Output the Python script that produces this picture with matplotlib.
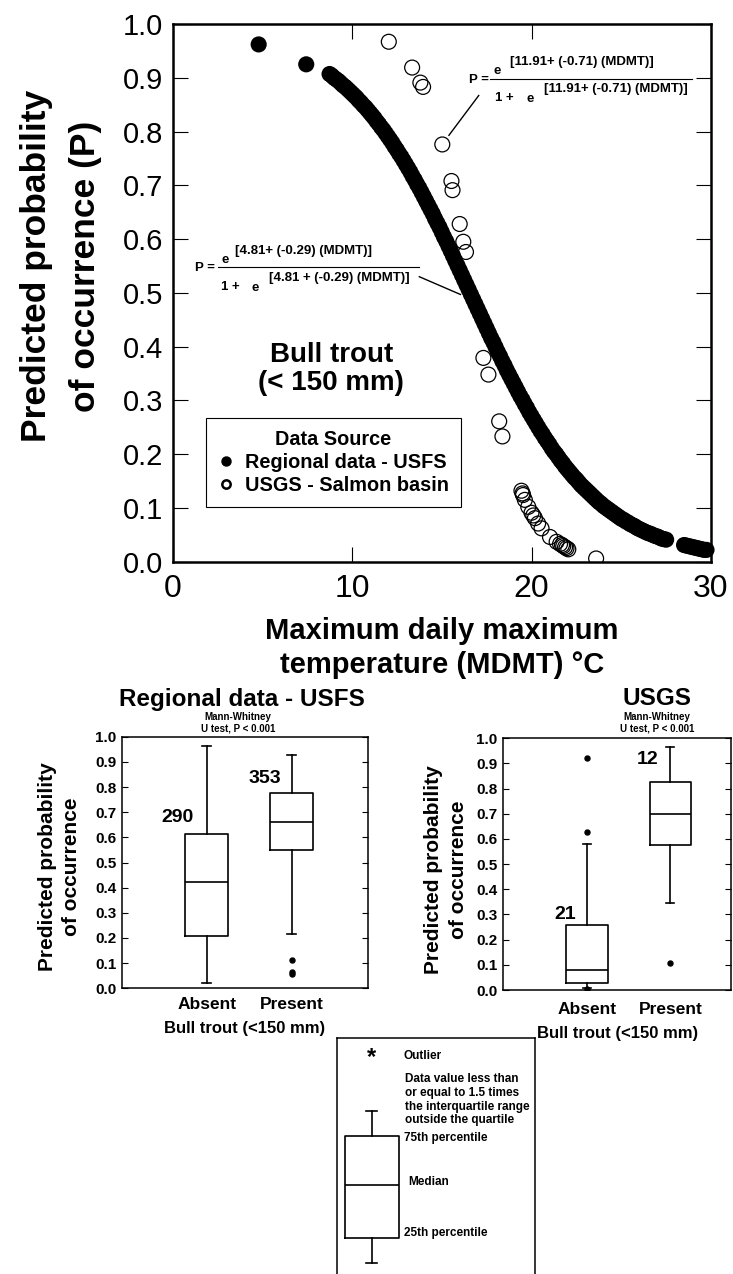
import matplotlib
matplotlib.use('Agg')
import matplotlib.pyplot as plt
from matplotlib.lines import Line2D

plt.rcParams['font.family'] = ['Liberation Sans', 'DejaVu Sans']

# ---------------- data ----------------
# Regional data - USFS: predicted probability vs MDMT (dense band of points)
usfs_mdmt = [4.8, 7.45,
             8.75, 8.875, 9.0, 9.125, 9.25, 9.375, 9.5, 9.625, 9.75, 9.875,
             10.0, 10.125, 10.25, 10.375, 10.5, 10.625, 10.75, 10.875,
             11.0, 11.125, 11.25, 11.375, 11.5, 11.625, 11.75, 11.875,
             12.0, 12.125, 12.25, 12.375, 12.5, 12.625, 12.75, 12.875,
             13.0, 13.125, 13.25, 13.375, 13.5, 13.625, 13.75, 13.875,
             14.0, 14.125, 14.25, 14.375, 14.5, 14.625, 14.75, 14.875,
             15.0, 15.125, 15.25, 15.375, 15.5, 15.625, 15.75, 15.875,
             16.0, 16.125, 16.25, 16.375, 16.5, 16.625, 16.75, 16.875,
             17.0, 17.125, 17.25, 17.375, 17.5, 17.625, 17.75, 17.875,
             18.0, 18.125, 18.25, 18.375, 18.5, 18.625, 18.75, 18.875,
             19.0, 19.125, 19.25, 19.375, 19.5, 19.625, 19.75, 19.875,
             20.0, 20.125, 20.25, 20.375, 20.5, 20.625, 20.75, 20.875,
             21.0, 21.125, 21.25, 21.375, 21.5, 21.625, 21.75, 21.875,
             22.0, 22.125, 22.25, 22.375, 22.5, 22.625, 22.75, 22.875,
             23.0, 23.125, 23.25, 23.375, 23.5, 23.625, 23.75, 23.875,
             24.0, 24.125, 24.25, 24.375, 24.5, 24.625, 24.75, 24.875,
             25.0, 25.125, 25.25, 25.375, 25.5, 25.625, 25.75, 25.875,
             26.0, 26.125, 26.25, 26.375, 26.5, 26.625, 26.75, 26.875,
             27.0, 27.125, 27.25, 27.375, 27.5,
             28.5, 28.625, 28.75, 28.875, 29.0, 29.125, 29.25, 29.375,
             29.5, 29.625, 29.75]
usfs_p = [0.962, 0.925,
          0.907, 0.904, 0.900, 0.897, 0.894, 0.890, 0.886, 0.883, 0.879, 0.875,
          0.871, 0.867, 0.863, 0.858, 0.854, 0.849, 0.845, 0.840,
          0.835, 0.830, 0.825, 0.819, 0.814, 0.808, 0.803, 0.797,
          0.791, 0.785, 0.779, 0.772, 0.766, 0.759, 0.753, 0.746,
          0.739, 0.732, 0.725, 0.717, 0.710, 0.702, 0.695, 0.687,
          0.679, 0.671, 0.663, 0.655, 0.647, 0.638, 0.630, 0.622,
          0.613, 0.604, 0.596, 0.587, 0.578, 0.569, 0.560, 0.551,
          0.542, 0.533, 0.524, 0.515, 0.506, 0.497, 0.488, 0.479,
          0.470, 0.461, 0.452, 0.443, 0.434, 0.425, 0.416, 0.408,
          0.399, 0.390, 0.382, 0.373, 0.365, 0.356, 0.348, 0.340,
          0.332, 0.324, 0.316, 0.308, 0.301, 0.293, 0.286, 0.278,
          0.271, 0.264, 0.257, 0.250, 0.243, 0.237, 0.230, 0.224,
          0.218, 0.211, 0.205, 0.200, 0.194, 0.188, 0.183, 0.177,
          0.172, 0.167, 0.162, 0.157, 0.153, 0.148, 0.143, 0.139,
          0.135, 0.131, 0.127, 0.123, 0.119, 0.115, 0.111, 0.108,
          0.104, 0.101, 0.098, 0.095, 0.092, 0.089, 0.086, 0.083,
          0.080, 0.078, 0.075, 0.073, 0.070, 0.068, 0.066, 0.063,
          0.061, 0.059, 0.057, 0.055, 0.053, 0.052, 0.050, 0.048,
          0.047, 0.045, 0.043, 0.042, 0.041,
          0.031, 0.030, 0.029, 0.028, 0.027, 0.026, 0.025, 0.024,
          0.023, 0.022, 0.022]

# USGS - Salmon basin
usgs_mdmt = [12.05, 13.35, 13.81, 13.96, 15.03, 15.54, 15.6, 16.0, 16.2, 16.35,
             17.32, 17.6, 18.2, 18.38, 19.44, 19.5, 19.53, 19.63, 19.82, 20.0,
             20.1, 20.19, 20.37, 20.56, 21.03, 21.4, 21.59, 21.7, 21.77, 21.87,
             21.95, 22.05, 23.6]
usgs_p = [0.967, 0.919, 0.891, 0.883, 0.776, 0.708, 0.691, 0.628, 0.595, 0.576,
          0.379, 0.348, 0.261, 0.233, 0.132, 0.127, 0.124, 0.115, 0.102, 0.091,
          0.086, 0.081, 0.071, 0.062, 0.046, 0.037, 0.033, 0.031, 0.029, 0.027,
          0.025, 0.023, 0.006]

x_ticks = [0, 10, 20, 30]
p_ticks = [0.0, 0.1, 0.2, 0.3, 0.4, 0.5, 0.6, 0.7, 0.8, 0.9, 1.0]

box_groups = ['Absent', 'Present']
usfs_q = {'whislo': [0.02, 0.216], 'q1': [0.208, 0.55], 'med': [0.424, 0.66],
          'q3': [0.613, 0.775], 'whishi': [0.964, 0.927]}
usfs_fliers = [[], [0.113, 0.064, 0.056]]
usfs_n = [290, 353]

usgs_q = {'whislo': [0.008, 0.347], 'q1': [0.029, 0.576], 'med': [0.079, 0.698],
          'q3': [0.258, 0.828], 'whishi': [0.579, 0.967]}
usgs_fliers = [[0.921, 0.626, 0.003], [0.109]]
usgs_n = [21, 12]

# ---------------- figure ----------------
W, H = 733, 1274
fig = plt.figure(figsize=(W / 100, H / 100), dpi=100)


def rect(l, t, r, b):
    return [l / W, 1 - b / H, (r - l) / W, (b - t) / H]


# ================= top scatter =================
ax = fig.add_axes(rect(172.5, 24, 711, 561.7))
ax.scatter(usfs_mdmt, usfs_p, s=135, c='k', edgecolors='none', zorder=3, clip_on=False)
ax.scatter(usgs_mdmt, usgs_p, s=115, facecolors='none', edgecolors='k',
           linewidths=0.9, zorder=4)
ax.set_xlim(0, 30)
ax.set_ylim(0, 1)
ax.set_xticks(x_ticks, labels=[str(v) for v in x_ticks])
ax.set_yticks(p_ticks, labels=[f'{v:.1f}' for v in p_ticks])
ax.tick_params(direction='in', length=11, width=0.8, top=True, right=True)
ax.tick_params(axis='x', labelsize=23, pad=9)
ax.tick_params(axis='y', labelsize=21, pad=7)
for s in ax.spines.values():
    s.set_linewidth(1.8)

ax.set_ylabel('Predicted probability\nof occurrence (P)', fontsize=25.5,
              fontweight='bold', ha='center', va='center', linespacing=1.6)
ax.yaxis.set_label_coords((61 - 172.5) / 538.5, (561.7 - 266) / 537.7)
ax.set_xlabel('Maximum daily maximum\ntemperature (MDMT) \u00b0C', fontsize=21,
              fontweight='bold', va='center', linespacing=1.25)
ax.xaxis.set_label_coords(0.5, (561.7 - 648) / 537.7)

ax.text(8.84, 0.385, 'Bull trout', ha='center', va='center', fontsize=20,
        fontweight='bold')
ax.text(8.84, 0.332, '(< 150 mm)', ha='center', va='center', fontsize=20,
        fontweight='bold')

handles = [Line2D([], [], marker='o', ls='none', mfc='k', mec='k', ms=6.5,
                  label='Regional data - USFS'),
           Line2D([], [], marker='o', ls='none', mfc='none', mec='k', mew=1.8,
                  ms=6.0, label='USGS - Salmon basin')]
leg = ax.legend(handles=handles, title='Data Source', loc='upper left',
                bbox_to_anchor=(0.0617, 0.267), prop={'weight': 'bold', 'size': 14.3},
                title_fontproperties={'weight': 'bold', 'size': 14.3},
                frameon=True, fancybox=False, edgecolor='k', framealpha=1,
                borderpad=0.6, handlelength=0.8, handletextpad=0.6,
                labelspacing=0.2, borderaxespad=0)
leg.get_frame().set_linewidth(0.8)

# equations
eq = dict(fontsize=9.5, fontweight='bold')
ax.text(17.06, 0.896, 'P =', ha='center', va='center', **eq)
ax.plot([17.67, 28.93], [0.898, 0.898], color='k', lw=0.8)
ax.text(18.07, 0.913, 'e', ha='center', va='center', **eq)
ax.text(18.78, 0.929, '[11.91+ (-0.71) (MDMT)]', ha='left', va='center', **eq)
ax.text(17.95, 0.863, '1 +', ha='left', va='center', **eq)
ax.text(19.9, 0.861, 'e', ha='center', va='center', **eq)
ax.text(20.7, 0.879, '[11.91+ (-0.71) (MDMT)]', ha='left', va='center', **eq)
ax.plot([17.06, 15.4], [0.867, 0.793], color='k', lw=1.0)

ax.text(1.8, 0.547, 'P =', ha='center', va='center', **eq)
ax.plot([2.56, 13.75], [0.548, 0.548], color='k', lw=0.8)
ax.text(2.96, 0.561, 'e', ha='center', va='center', **eq)
ax.text(3.47, 0.578, '[4.81+ (-0.29) (MDMT)]', ha='left', va='center', **eq)
ax.text(2.7, 0.511, '1 +', ha='left', va='center', **eq)
ax.text(4.62, 0.509, 'e', ha='center', va='center', **eq)
ax.text(5.4, 0.528, '[4.81 + (-0.29) (MDMT)]', ha='left', va='center', **eq)
ax.plot([13.75, 16.04], [0.530, 0.497], color='k', lw=1.0)


# ================= box plots =================
def make_stats(q, fliers):
    out = []
    for i in range(len(box_groups)):
        out.append({'whislo': q['whislo'][i], 'q1': q['q1'][i], 'med': q['med'][i],
                    'q3': q['q3'][i], 'whishi': q['whishi'][i], 'fliers': fliers[i]})
    return out


line_kw = dict(color='k', linewidth=1.2)


def box_axes(r, q, fliers, xlim, label_pad):
    bax = fig.add_axes(r)
    bax.bxp(make_stats(q, fliers), positions=[1, 2], widths=0.5, capwidths=0.1,
            boxprops=line_kw, whiskerprops=line_kw, capprops=line_kw,
            medianprops=line_kw,
            flierprops=dict(marker='o', markersize=3.6, markerfacecolor='k',
                            markeredgecolor='k'))
    bax.set_xlim(*xlim)
    bax.set_ylim(0, 1)
    bax.set_yticks(p_ticks, labels=[f'{v:.1f}' for v in p_ticks], fontweight='bold')
    bax.set_xticks([1, 2], labels=box_groups, fontweight='bold')
    bax.tick_params(axis='y', direction='in', length=4, width=0.8, left=True,
                    right=True, labelsize=11, pad=4)
    bax.tick_params(axis='x', length=0, labelsize=12.5, pad=label_pad)
    for s in bax.spines.values():
        s.set_linewidth(1.1)
    return bax


bl = box_axes(rect(121.7, 736.7, 368, 988.3), usfs_q, usfs_fliers, (0, 2.9), 6.5)
bl.set_ylabel('Predicted probability\nof occurrence', fontsize=15, fontweight='bold',
              ha='center', va='center', linespacing=1.35)
bl.yaxis.set_label_coords((59.5 - 121.7) / 246.3, (988.3 - 867) / 251.6)
bl.set_xlabel('Bull trout (<150 mm)', fontsize=12, fontweight='bold', va='center')
bl.xaxis.set_label_coords(0.5, -0.159)
bl.text(0.488, 1.146, 'Regional data - USFS', transform=bl.transAxes, ha='center',
        va='center', fontsize=17.5, fontweight='bold')
bl.text(0.472, 1.080, 'Mann-Whitney', transform=bl.transAxes, ha='center',
        va='center', fontsize=7, fontweight='bold')
bl.text(0.472, 1.032, 'U test, P < 0.001', transform=bl.transAxes, ha='center',
        va='center', fontsize=7, fontweight='bold')
bl.text(0.66, 0.677, str(usfs_n[0]), ha='center', va='center', fontsize=14,
        fontweight='bold')
bl.text(1.69, 0.832, str(usfs_n[1]), ha='center', va='center', fontsize=14,
        fontweight='bold')

br = box_axes(rect(503.3, 738.3, 731, 990), usgs_q, usgs_fliers, (-0.01, 2.73), 9)
br.set_ylabel('Predicted probability\nof occurrence', fontsize=15, fontweight='bold',
              ha='center', va='center', linespacing=1.35)
br.yaxis.set_label_coords((446 - 503.3) / 227.7, (990 - 870) / 251.7)
br.set_xlabel('Bull trout (<150 mm)', fontsize=12, fontweight='bold', va='center')
br.xaxis.set_label_coords(0.5, -0.171)
br.text(0.675, 1.160, 'USGS', transform=br.transAxes, ha='center', va='center',
        fontsize=17.5, fontweight='bold')
br.text(0.675, 1.086, 'Mann-Whitney', transform=br.transAxes, ha='center',
        va='center', fontsize=7, fontweight='bold')
br.text(0.675, 1.037, 'U test, P < 0.001', transform=br.transAxes, ha='center',
        va='center', fontsize=7, fontweight='bold')
br.text(0.74, 0.298, str(usgs_n[0]), ha='center', va='center', fontsize=14,
        fontweight='bold')
br.text(1.73, 0.914, str(usgs_n[1]), ha='center', va='center', fontsize=14,
        fontweight='bold')

# ================= box-plot key =================
kx = fig.add_axes(rect(337, 1038, 535, 1274))
kx.set_xlim(337, 535)
kx.set_ylim(1274, 1038)
kx.set_xticks([])
kx.set_yticks([])
for name, s in kx.spines.items():
    s.set_linewidth(1.1)
kx.spines['bottom'].set_visible(False)
kx.bxp([{'whislo': 1263, 'q1': 1238, 'med': 1185, 'q3': 1136, 'whishi': 1111,
         'fliers': []}], positions=[372], widths=54, capwidths=11,
       boxprops=line_kw, whiskerprops=line_kw, capprops=line_kw,
       medianprops=line_kw, showfliers=False, manage_ticks=False)
kfs = 8.5
kx.text(372, 1058, '*', ha='center', va='center', fontsize=17, fontweight='bold')
kx.text(404, 1056, 'Outlier', ha='left', va='center', fontsize=kfs, fontweight='bold')
kx.text(405, 1073, 'Data value less than\nor equal to 1.5 times\nthe interquartile range\noutside the quartile',
        ha='left', va='top', fontsize=kfs, fontweight='bold', linespacing=1.2)
kx.text(404, 1138, '75th percentile', ha='left', va='center', fontsize=kfs,
        fontweight='bold')
kx.text(408, 1182, 'Median', ha='left', va='center', fontsize=kfs, fontweight='bold')
kx.text(404, 1233, '25th percentile', ha='left', va='center', fontsize=kfs,
        fontweight='bold')

fig.savefig('out.png', dpi=100)
